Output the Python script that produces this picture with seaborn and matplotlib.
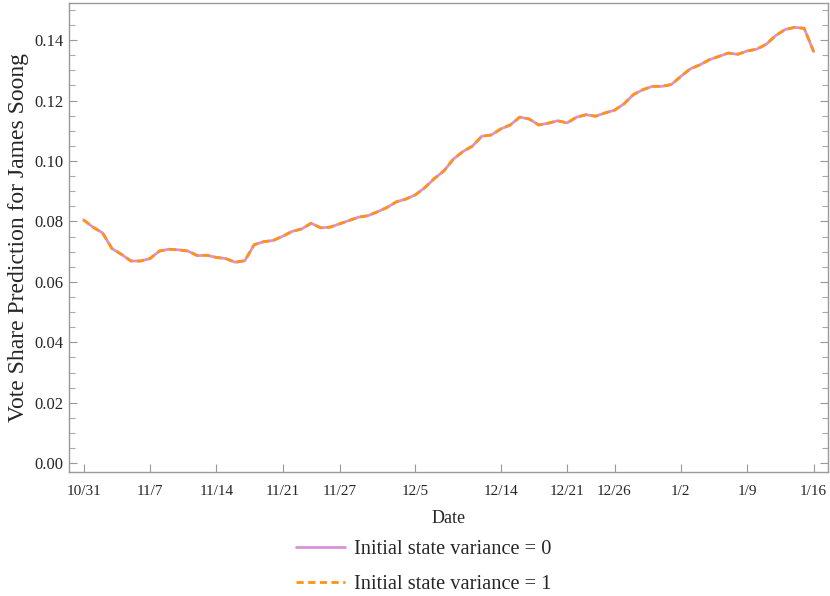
import pandas as pd
import matplotlib.pyplot as plt
from matplotlib.ticker import MultipleLocator
import seaborn as sns

# daily prediction, 10/31/2015 .. 1/16/2016
start_date = '2015-10-31'
end_date = '2016-01-16'
share_var0 = [0.0805, 0.0781, 0.0762, 0.0710, 0.0691, 0.0669, 0.0669, 0.0677, 0.0702, 0.0708,
              0.0706, 0.0702, 0.0687, 0.0688, 0.0681, 0.0677, 0.0665, 0.0670, 0.0723, 0.0733,
              0.0737, 0.0751, 0.0767, 0.0775, 0.0794, 0.0779, 0.0781, 0.0792, 0.0803, 0.0814,
              0.0819, 0.0832, 0.0846, 0.0865, 0.0874, 0.0888, 0.0912, 0.0942, 0.0967, 0.1006,
              0.1031, 0.1049, 0.1082, 0.1086, 0.1106, 0.1119, 0.1145, 0.1139, 0.1119, 0.1125,
              0.1133, 0.1126, 0.1145, 0.1153, 0.1148, 0.1159, 0.1168, 0.1189, 0.1220, 0.1236,
              0.1247, 0.1247, 0.1253, 0.1280, 0.1305, 0.1318, 0.1335, 0.1346, 0.1357, 0.1353,
              0.1364, 0.1370, 0.1386, 0.1415, 0.1435, 0.1442, 0.1439, 0.1362]
# the two runs give the same curve
share_var1 = list(share_var0)

tick_dates = ['2015-10-31', '2015-11-07', '2015-11-14', '2015-11-21', '2015-11-27', '2015-12-05',
              '2015-12-14', '2015-12-21', '2015-12-26', '2016-01-02', '2016-01-09', '2016-01-16']
tick_labels = ['10/31', '11/7', '11/14', '11/21', '11/27', '12/5',
               '12/14', '12/21', '12/26', '1/2', '1/9', '1/16']
series_names = ['Initial state variance = 0', 'Initial state variance = 1']

dates = pd.date_range(start_date, end_date, freq='D')
df0 = pd.DataFrame({'Date': dates, 'Share': share_var0})
df1 = pd.DataFrame({'Date': dates, 'Share': share_var1})

sns.set_style('ticks')
plt.rcParams['font.family'] = ['Liberation Serif', 'DejaVu Serif']

fig = plt.figure(figsize=(8.3, 5.96), dpi=100)
ax = fig.add_axes([0.083, 0.2076, 0.915, 0.787])

sns.lineplot(data=df0, x='Date', y='Share', ax=ax, color='#d991d9', lw=2.0, label=series_names[0])
sns.lineplot(data=df1, x='Date', y='Share', ax=ax, color='#ff9410', lw=2.0,
             linestyle=(0, (2.6, 1.6)), label=series_names[1])

pad = pd.Timedelta(days=1.55)
ax.set_xlim(dates[0] - pad, dates[-1] + pad)
ax.set_ylim(-0.003, 0.1522)

ax.set_xticks(pd.to_datetime(tick_dates))
ax.set_xticklabels(tick_labels)
ax.yaxis.set_major_locator(MultipleLocator(0.02))
ax.yaxis.set_minor_locator(MultipleLocator(0.005))
ax.yaxis.set_major_formatter(plt.FormatStrFormatter('%.2f'))

for s in ax.spines.values():
    s.set_color('#999999')
    s.set_linewidth(1.0)
ax.tick_params(axis='x', direction='in', length=6, width=0.8, color='#999999',
               labelsize=11, pad=9)
ax.tick_params(axis='y', which='major', direction='in', length=6, width=0.8, color='#999999',
               labelsize=12, pad=4, right=True)
ax.tick_params(axis='y', which='minor', direction='in', length=4, width=0.8, color='#aaaaaa',
               right=True)

ax.set_xlabel('Date', fontsize=13, labelpad=9)
ax.set_ylabel('Vote Share Prediction for James Soong', fontsize=17, labelpad=4)

ax.legend(loc='center', bbox_to_anchor=(0.511, 0.049), bbox_transform=fig.transFigure,
          frameon=False, fontsize=14.7, handlelength=2.4, labelspacing=0.75, handletextpad=0.45)

fig.savefig('out.png', dpi=100)
